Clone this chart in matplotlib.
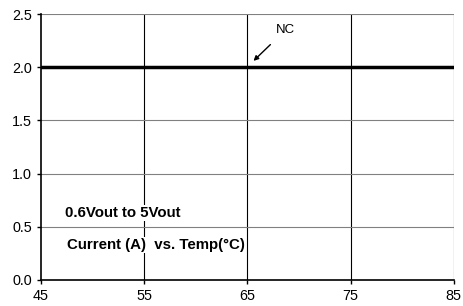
import matplotlib
matplotlib.use("Agg")
import matplotlib.pyplot as plt

plt.rcParams['font.family'] = ['Liberation Sans', 'DejaVu Sans']

temps = [45, 55, 65, 75, 85]
current = [2.0, 2.0, 2.0, 2.0, 2.0]
x_ticks = [45, 55, 65, 75, 85]
y_ticks = [0.0, 0.5, 1.0, 1.5, 2.0, 2.5]

fig = plt.figure(figsize=(4.64, 3.06), dpi=100)
ax = fig.add_axes([0.088, 0.085, 0.89, 0.869])

ax.set_xlim(45, 85)
ax.set_ylim(0, 2.5)
ax.set_xticks(x_ticks)
ax.set_yticks(y_ticks)
ax.set_yticklabels([f"{v:.1f}" for v in y_ticks])
ax.tick_params(labelsize=10.4, length=3, width=1, color='black', direction='out')

for x in x_ticks[1:]:
    ax.axvline(x, color='black', lw=0.8, zorder=1)
for y in y_ticks[1:]:
    ax.axhline(y, color='#808080', lw=0.8, zorder=1)

for s in ['top', 'right']:
    ax.spines[s].set_visible(False)
ax.spines['left'].set_linewidth(1.2)
ax.spines['bottom'].set_linewidth(1.2)

ax.plot(temps, current, color='black', lw=2.5, zorder=3)

ax.annotate('NC', xy=(65.6, 2.06), xytext=(68.7, 2.35), fontsize=9.5,
            ha='center', va='center',
            arrowprops=dict(arrowstyle='-|>', color='black', lw=1,
                            mutation_scale=7, shrinkA=6, shrinkB=0))

bbox = dict(facecolor='white', edgecolor='none', pad=0.5)
ax.text(47.3, 0.63, '0.6Vout to 5Vout', fontsize=10.8, fontweight='bold',
        va='center', ha='left', bbox=bbox, zorder=4)
ax.text(47.5, 0.33, 'Current (A)  vs. Temp(\u00b0C)', fontsize=10.8, fontweight='bold',
        va='center', ha='left', bbox=bbox, zorder=4)

fig.savefig('out.png', dpi=100)
